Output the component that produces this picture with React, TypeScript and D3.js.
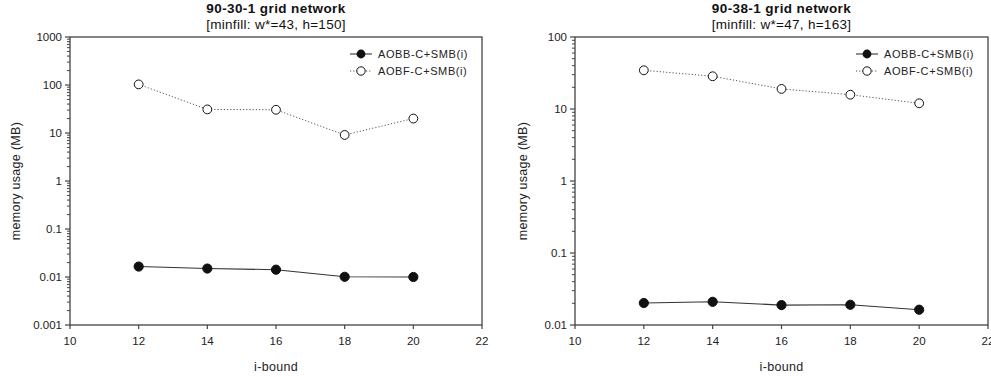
import React from "react";
import * as d3 from "d3";

const iBounds = [12, 14, 16, 18, 20];
const xTicks = [10, 12, 14, 16, 18, 20, 22];
const seriesNames = ["AOBB-C+SMB(i)", "AOBF-C+SMB(i)"];

const leftTitle = "90-30-1 grid network";
const leftSubtitle = "[minfill: w*=43, h=150]";
const leftAOBB = [0.0165, 0.015, 0.0142, 0.0101, 0.01];
const leftAOBF = [103, 31, 30.5, 9.1, 20];
const leftYTicks = [0.001, 0.01, 0.1, 1, 10, 100, 1000];
const leftYTickLabels = ["0.001", "0.01", "0.1", "1", "10", "100", "1000"];

const rightTitle = "90-38-1 grid network";
const rightSubtitle = "[minfill: w*=47, h=163]";
const rightAOBB = [0.0202, 0.021, 0.0189, 0.0191, 0.0163];
const rightAOBF = [34.5, 28.5, 19, 15.8, 12];
const rightYTicks = [0.01, 0.1, 1, 10, 100];
const rightYTickLabels = ["0.01", "0.1", "1", "10", "100"];

const FONT = "'Liberation Sans', Arial, sans-serif";

type PanelProps = {
  x0: number;
  x1: number;
  y0: number;
  y1: number;
  title: string;
  subtitle: string;
  aobb: number[];
  aobf: number[];
  yTicks: number[];
  yTickLabels: string[];
  yLabelX: number;
};

function Panel(p: PanelProps) {
  const x = d3.scaleLinear().domain([10, 22]).range([p.x0, p.x1]);
  const y = d3
    .scaleLog()
    .domain([p.yTicks[0], p.yTicks[p.yTicks.length - 1]])
    .range([p.y1, p.y0]);
  const minor: number[] = [];
  for (let i = 0; i < p.yTicks.length - 1; i++) {
    for (let k = 2; k <= 9; k++) minor.push(p.yTicks[i] * k);
  }
  const line = d3
    .line<number>()
    .x((_, i) => x(iBounds[i]))
    .y((d) => y(d));
  const cx = (p.x0 + p.x1) / 2;
  const legX = p.x1 - 132;
  const legRows = [p.y0 + 17, p.y0 + 34];
  const axisColor = "#444";
  return (
    <g>
      <text x={cx} y={13} textAnchor="middle" fontFamily={FONT} fontWeight="bold" fontSize={13.5} letterSpacing={0.4} fill="#111">
        {p.title}
      </text>
      <text x={cx} y={29} textAnchor="middle" fontFamily={FONT} fontSize={13.5} letterSpacing={0.3} fill="#111">
        {p.subtitle}
      </text>
      <rect x={p.x0} y={p.y0} width={p.x1 - p.x0} height={p.y1 - p.y0} fill="none" stroke={axisColor} strokeWidth={1.3} />
      {minor.map((v, i) => (
        <line key={"m" + i} x1={p.x0 - 3} x2={p.x0} y1={y(v)} y2={y(v)} stroke={axisColor} strokeWidth={1} />
      ))}
      {p.yTicks.map((v, i) => (
        <g key={"y" + i}>
          <line x1={p.x0 - 5} x2={p.x0} y1={y(v)} y2={y(v)} stroke={axisColor} strokeWidth={1.2} />
          <text x={p.x0 - 8} y={y(v) + 4} textAnchor="end" fontFamily={FONT} fontSize={11.5} fill="#222">
            {p.yTickLabels[i]}
          </text>
        </g>
      ))}
      {xTicks.map((v) => (
        <g key={"x" + v}>
          <line x1={x(v)} x2={x(v)} y1={p.y1} y2={p.y1 + 4} stroke={axisColor} strokeWidth={1.2} />
          <text x={x(v)} y={p.y1 + 20} textAnchor="middle" fontFamily={FONT} fontSize={11.5} fill="#222">
            {v}
          </text>
        </g>
      ))}
      <text x={cx} y={p.y1 + 46} textAnchor="middle" fontFamily={FONT} fontSize={12.5} letterSpacing={0.3} fill="#222">
        i-bound
      </text>
      <text
        transform={`translate(${p.yLabelX},${(p.y0 + p.y1) / 2}) rotate(-90)`}
        textAnchor="middle"
        fontFamily={FONT}
        fontSize={12.5}
        letterSpacing={0.3}
        fill="#222"
      >
        memory usage (MB)
      </text>
      <path d={line(p.aobb) || ""} fill="none" stroke="#333" strokeWidth={1.1} />
      <path d={line(p.aobf) || ""} fill="none" stroke="#555" strokeWidth={1} strokeDasharray="1.2,2" />
      {p.aobb.map((v, i) => (
        <circle key={"b" + i} cx={x(iBounds[i])} cy={y(v)} r={4.6} fill="#111" stroke="#111" />
      ))}
      {p.aobf.map((v, i) => (
        <circle key={"f" + i} cx={x(iBounds[i])} cy={y(v)} r={4.4} fill="#fff" stroke="#111" strokeWidth={1} />
      ))}
      {/* legend */}
      <line x1={legX} x2={legX + 22} y1={legRows[0]} y2={legRows[0]} stroke="#333" strokeWidth={1.1} />
      <circle cx={legX + 11} cy={legRows[0]} r={4.4} fill="#111" />
      <text x={legX + 28} y={legRows[0] + 4} fontFamily={FONT} fontSize={11} letterSpacing={0.6} fill="#222">
        {seriesNames[0]}
      </text>
      <line x1={legX} x2={legX + 22} y1={legRows[1]} y2={legRows[1]} stroke="#555" strokeWidth={1} strokeDasharray="1.2,2" />
      <circle cx={legX + 11} cy={legRows[1]} r={4.2} fill="#fff" stroke="#111" />
      <text x={legX + 28} y={legRows[1] + 4} fontFamily={FONT} fontSize={11} letterSpacing={0.6} fill="#222">
        {seriesNames[1]}
      </text>
    </g>
  );
}

export default function App() {
  return (
    <svg
      width={991}
      height={377}
      style={{ position: "fixed", left: 0, top: 0, background: "#fff" }}
    >
      <rect width={991} height={377} fill="#fff" />
      <Panel
        x0={70}
        x1={482}
        y0={37}
        y1={325}
        title={leftTitle}
        subtitle={leftSubtitle}
        aobb={leftAOBB}
        aobf={leftAOBF}
        yTicks={leftYTicks}
        yTickLabels={leftYTickLabels}
        yLabelX={20}
      />
      <Panel
        x0={575}
        x1={988}
        y0={37}
        y1={325}
        title={rightTitle}
        subtitle={rightSubtitle}
        aobb={rightAOBB}
        aobf={rightAOBF}
        yTicks={rightYTicks}
        yTickLabels={rightYTickLabels}
        yLabelX={527}
      />
    </svg>
  );
}
